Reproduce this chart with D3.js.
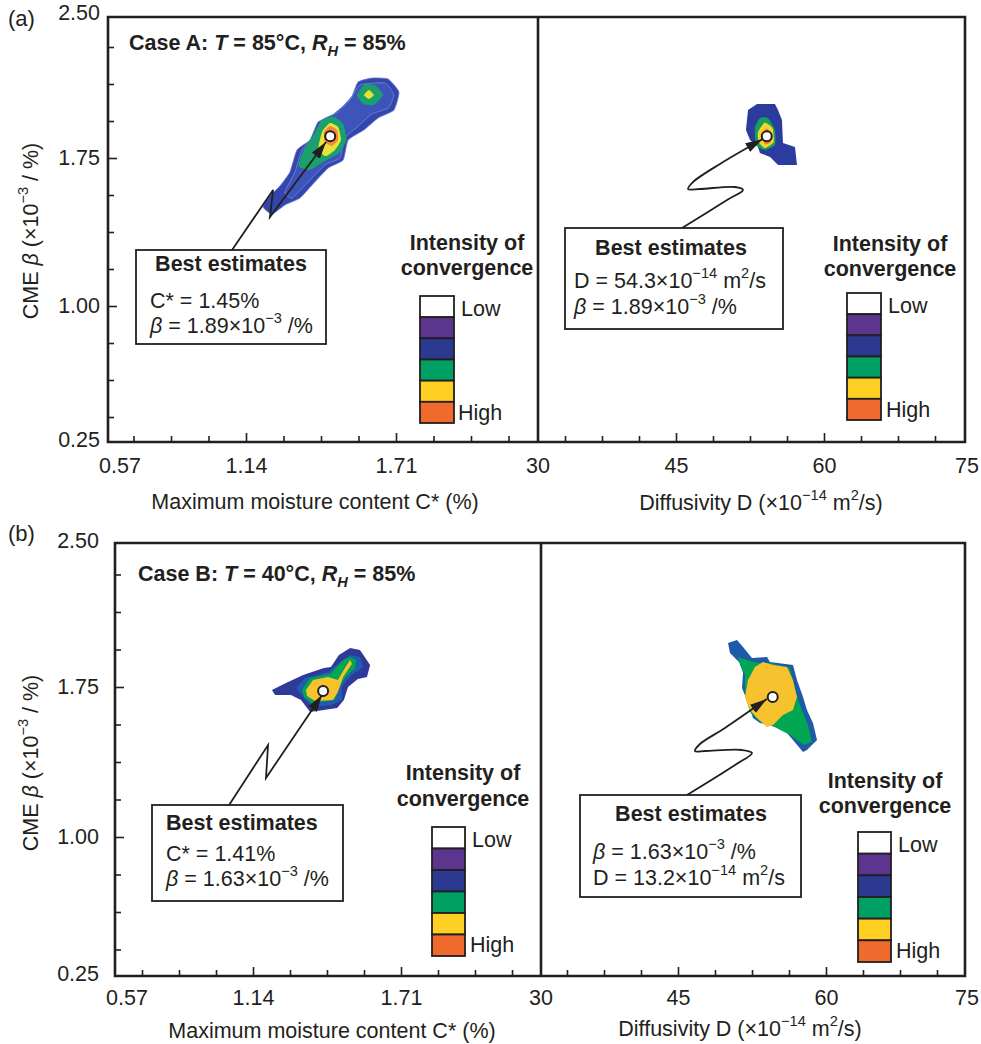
<!DOCTYPE html>
<html><head><meta charset="utf-8">
<script src="https://cdn.jsdelivr.net/npm/d3@7"></script>
<style>
body{margin:0;background:#fff}
svg{display:block}
text{font-family:"Liberation Sans",Arial,Helvetica,sans-serif;fill:#231f20}
</style>
</head><body><svg id="c" width="981" height="1044"></svg>
<script>
// ---------------- DATA ----------------
const betaTicks = [2.50, 1.75, 1.00, 0.25];
const betaMinorStep = 0.1875;
const cTicks = [0.57, 1.14, 1.71];
const cMinorStep = 0.1425;
const dTicks = [30, 45, 60, 75];
const dMinorStep = 3.75;
const legendLabels = ["Low", "", "", "", "", "High"];
const legendColors = ["#ffffff", "#5c358f", "#2b3990", "#00a064", "#fdd023", "#ef6a2c"];

// Case A, C*–beta plane (C* %, beta x1e-3 /%)
const aLeftOuter = [[1.205,1.502],[1.231,1.557],[1.269,1.608],[1.307,1.679],[1.334,1.791],[1.383,1.841],[1.414,1.932],[1.459,1.958],[1.505,2.008],[1.543,2.064],[1.566,2.135],[1.619,2.155],[1.680,2.150],[1.721,2.084],[1.702,1.993],[1.642,1.953],[1.588,1.892],[1.528,1.841],[1.509,1.740],[1.452,1.699],[1.391,1.613],[1.345,1.547],[1.288,1.512],[1.239,1.466]];
const aLeftMid = [[1.288,1.578],[1.326,1.679],[1.353,1.791],[1.402,1.867],[1.429,1.943],[1.490,1.983],[1.535,2.044],[1.573,2.120],[1.668,2.130],[1.702,2.069],[1.680,2.003],[1.619,1.973],[1.558,1.902],[1.516,1.851],[1.497,1.750],[1.440,1.715],[1.376,1.628],[1.315,1.547]];
const aLeftGreen = [[1.340,1.710],[1.360,1.791],[1.398,1.870],[1.425,1.937],[1.471,1.960],[1.510,1.920],[1.522,1.841],[1.494,1.775],[1.440,1.735],[1.383,1.690]];
const aLeftYellow = [[1.414,1.791],[1.429,1.882],[1.459,1.927],[1.490,1.907],[1.501,1.841],[1.478,1.791],[1.444,1.760]];
const aLeftOrange = [[1.436,1.882],[1.459,1.912],[1.486,1.892],[1.490,1.841],[1.467,1.811],[1.440,1.831]];
const aLeftGreen2 = [[1.562,2.069],[1.592,2.125],[1.634,2.115],[1.661,2.069],[1.626,2.019],[1.585,2.024]];
const aLeftYellow2 = [[1.588,2.069],[1.607,2.095],[1.626,2.069],[1.607,2.049]];
const aLeftBest = [1.46, 1.86];
const aLeftLeader = [[1.087,1.284],[1.243,1.588],[1.231,1.451],[1.444,1.831]];

// Case A, D–beta plane (D x1e-14 m2/s)
const aRightBlue = [[53.21,2.024],[55.03,2.024],[55.34,1.993],[55.74,1.943],[55.84,1.826],[57.06,1.806],[57.26,1.715],[55.34,1.715],[54.53,1.755],[53.51,1.775],[53.31,1.806],[52.50,1.841],[52.09,1.892],[52.30,1.993]];
const aRightGreen = [[53.0,1.902],[53.51,1.953],[54.32,1.953],[55.03,1.892],[55.03,1.816],[54.02,1.791],[53.11,1.816]];
const aRightYellow = [[53.3,1.88],[54.0,1.93],[54.8,1.90],[54.9,1.83],[54.0,1.80],[53.4,1.83]];
const aRightOrange = [[53.7,1.87],[54.2,1.90],[54.7,1.87],[54.6,1.83],[54.0,1.82]];
const aRightBest = [54.2, 1.86];
const aRightLeader = [[45.61,1.395],[50.17,1.537],[51.79,1.588],[50.98,1.603],[47.43,1.593],[46.22,1.593],[46.72,1.628],[49.46,1.720],[53.75,1.845]];

// Case B, C*–beta plane
const bLeftOuter = [[1.213,1.735],[1.267,1.77],[1.333,1.81],[1.413,1.845],[1.440,1.85],[1.471,1.91],[1.514,1.945],[1.552,1.935],[1.591,1.86],[1.579,1.80],[1.544,1.79],[1.506,1.75],[1.490,1.685],[1.464,1.645],[1.360,1.625],[1.325,1.685],[1.286,1.71],[1.225,1.71]];
const bLeftLight = [[1.306,1.745],[1.340,1.795],[1.429,1.825],[1.475,1.875],[1.514,1.91],[1.552,1.90],[1.564,1.85],[1.521,1.81],[1.483,1.755],[1.483,1.685],[1.444,1.66],[1.367,1.65],[1.333,1.70]];
const bLeftGreen = [[1.329,1.735],[1.360,1.795],[1.437,1.815],[1.487,1.885],[1.514,1.90],[1.537,1.885],[1.533,1.845],[1.494,1.795],[1.467,1.735],[1.456,1.685],[1.367,1.67],[1.336,1.70]];
const bLeftYellow = [[1.344,1.735],[1.371,1.785],[1.429,1.80],[1.467,1.785],[1.494,1.845],[1.514,1.885],[1.521,1.865],[1.487,1.80],[1.467,1.725],[1.448,1.685],[1.379,1.68],[1.348,1.705]];
const bLeftBest = [1.41, 1.73];
const bLeftLeader = [[1.048,1.16],[1.198,1.46],[1.190,1.295],[1.406,1.71]];

// Case B, D–beta plane
const bRightBlue = [[50.07,1.97],[50.98,1.985],[51.59,1.95],[52.50,1.895],[54.02,1.90],[54.32,1.875],[56.65,1.86],[57.06,1.785],[57.67,1.70],[58.07,1.635],[58.68,1.57],[59.09,1.485],[58.07,1.435],[57.67,1.425],[56.65,1.485],[56.05,1.52],[54.83,1.55],[54.32,1.56],[53.31,1.57],[52.60,1.595],[52.09,1.67],[51.49,1.745],[51.59,1.82],[51.28,1.87],[50.27,1.92]];
const bRightGreen = [[51.08,1.90],[51.99,1.885],[53.11,1.87],[54.32,1.87],[56.35,1.845],[56.86,1.735],[57.36,1.66],[58.17,1.56],[58.58,1.475],[57.77,1.46],[56.35,1.51],[54.83,1.55],[53.31,1.575],[52.30,1.625],[51.79,1.71],[51.79,1.81],[51.28,1.86]];
const bRightYellow = [[52.80,1.85],[53.61,1.875],[54.63,1.86],[56.05,1.85],[56.65,1.785],[57.06,1.70],[56.65,1.635],[55.64,1.61],[54.63,1.56],[54.02,1.55],[53.01,1.595],[52.30,1.635],[51.79,1.70],[52.09,1.785]];
const bRightBest = [54.6, 1.70];
const bRightLeader = [[45.91,1.21],[50.78,1.36],[52.50,1.42],[51.49,1.435],[47.74,1.43],[46.72,1.43],[47.23,1.465],[49.76,1.545],[54.0,1.69]];

// ---------------- DRAWING ----------------
const INK = "#231f20";
const FS = 21.5;
const svg = d3.select("#c");
const defs = svg.append("defs");
defs.append("marker").attr("id", "arr").attr("markerUnits", "userSpaceOnUse")
  .attr("markerWidth", 20).attr("markerHeight", 12).attr("refX", 17).attr("refY", 5)
  .attr("orient", "auto").append("path").attr("d", "M0,0L17,5L0,10Z").attr("fill", INK);

function rich(parent, x, y, segs, o = {}) {
  const size = o.size || FS;
  const t = parent.append("text").attr("x", x).attr("y", y + size * 0.35)
    .attr("font-size", size).attr("text-anchor", o.anchor || "start");
  if (o.bold) t.attr("font-weight", "bold");
  if (o.rotate) t.attr("transform", `rotate(-90 ${x} ${y})`);
  let shift = 0;
  segs.forEach(s => {
    if (typeof s === "string") s = { t: s };
    const target = s.sup ? -0.42 * size : s.sub ? 0.3 * size : 0;
    const ts = t.append("tspan").text(s.t).attr("dy", target - shift);
    shift = target;
    if (s.sup || s.sub) ts.attr("font-size", size * 0.68);
    if (s.i) ts.attr("font-style", "italic");
  });
  return t;
}

const betaLine = v => [{ t: "β", i: true }, " = " + v + "×10", { t: "−3", sup: true }, " /%"];
const dLine = v => ["D = " + v + "×10", { t: "−14", sup: true }, " m", { t: "2", sup: true }, "/s"];

function drawPanel(P) {
  const g = svg.append("g");
  const y = d3.scaleLinear().domain([0.25, 2.5]).range(P.yR);
  const xc = d3.scaleLinear().domain([0.57, 2.28]).range(P.cR);
  const xd = d3.scaleLinear().domain([30, 75]).range(P.dR);

  const cl = "clipL" + P.id, cr = "clipR" + P.id;
  defs.append("clipPath").attr("id", cl).append("rect").attr("x", P.x0).attr("y", P.top).attr("width", P.xm - P.x0).attr("height", P.bottom - P.top);
  defs.append("clipPath").attr("id", cr).append("rect").attr("x", P.xm).attr("y", P.top).attr("width", P.x1 - P.xm).attr("height", P.bottom - P.top);

  const gl = g.append("g").attr("clip-path", `url(#${cl})`);
  const gr = g.append("g").attr("clip-path", `url(#${cr})`);
  const lineL = d3.line().x(d => xc(d[0])).y(d => y(d[1]));
  const lineR = d3.line().x(d => xd(d[0])).y(d => y(d[1]));

  P.blobsL.forEach(b => gl.append("path").attr("d", lineL.curve(b.curve || d3.curveLinearClosed)(b.pts))
    .attr("fill", b.fill).attr("stroke", b.stroke || "none").attr("stroke-width", b.sw || 0));
  P.blobsR.forEach(b => gr.append("path").attr("d", lineR.curve(b.curve || d3.curveLinearClosed)(b.pts))
    .attr("fill", b.fill).attr("stroke", b.stroke || "none").attr("stroke-width", b.sw || 0));

  gl.append("path").attr("d", lineL.curve(d3.curveLinear)(P.leaderL)).attr("fill", "none")
    .attr("stroke", INK).attr("stroke-width", 1.8).attr("marker-end", "url(#arr)");
  gr.append("path").attr("d", lineR.curve(d3.curveCatmullRom.alpha(0.5))(P.leaderR)).attr("fill", "none")
    .attr("stroke", INK).attr("stroke-width", 1.8).attr("marker-end", "url(#arr)");
  gl.append("circle").attr("cx", xc(P.bestL[0])).attr("cy", y(P.bestL[1])).attr("r", 5)
    .attr("fill", "#fff").attr("stroke", INK).attr("stroke-width", 2);
  gr.append("circle").attr("cx", xd(P.bestR[0])).attr("cy", y(P.bestR[1])).attr("r", 5)
    .attr("fill", "#fff").attr("stroke", INK).attr("stroke-width", 2);

  const clean = s => s.call(a => a.select(".domain").remove()).selectAll("line").attr("stroke", INK).attr("stroke-width", 1.6);
  const inside = (v, lo, hi) => v > lo + 3 && v < hi - 3;
  const yMinor = d3.range(0.25, 2.5001, betaMinorStep).filter(v => inside(y(v), P.top, P.bottom) && !betaTicks.some(t => Math.abs(t - v) < 1e-6));
  const yMajor = betaTicks.filter(v => inside(y(v), P.top, P.bottom));
  g.append("g").attr("transform", `translate(${P.x0},0)`).call(d3.axisRight(y).tickValues(yMinor).tickSize(6).tickFormat("")).call(clean);
  g.append("g").attr("transform", `translate(${P.x0},0)`).call(d3.axisRight(y).tickValues(yMajor).tickSize(9).tickFormat("")).call(clean);

  const cMinor = d3.range(0.57, 2.2801, cMinorStep).filter(v => inside(xc(v), P.x0, P.xm) && !cTicks.some(t => Math.abs(t - v) < 1e-6));
  const cMajor = cTicks.filter(v => inside(xc(v), P.x0, P.xm));
  g.append("g").attr("transform", `translate(0,${P.bottom})`).call(d3.axisTop(xc).tickValues(cMinor).tickSize(6).tickFormat("")).call(clean);
  g.append("g").attr("transform", `translate(0,${P.bottom})`).call(d3.axisTop(xc).tickValues(cMajor).tickSize(9).tickFormat("")).call(clean);
  const dMinor = d3.range(30, 75.001, dMinorStep).filter(v => inside(xd(v), P.xm, P.x1) && !dTicks.some(t => Math.abs(t - v) < 1e-6));
  const dMajor = dTicks.filter(v => inside(xd(v), P.xm, P.x1));
  g.append("g").attr("transform", `translate(0,${P.bottom})`).call(d3.axisTop(xd).tickValues(dMinor).tickSize(6).tickFormat("")).call(clean);
  g.append("g").attr("transform", `translate(0,${P.bottom})`).call(d3.axisTop(xd).tickValues(dMajor).tickSize(9).tickFormat("")).call(clean);

  const styleLabels = s => { s.select(".domain").remove(); s.attr("font-family", null).attr("font-size", null);
    s.selectAll("text").attr("font-size", FS).style("fill", INK); };
  const yl = g.append("g").attr("transform", `translate(${P.yLabX},0)`)
    .call(d3.axisLeft(y).tickValues(betaTicks).tickSize(0).tickPadding(0).tickFormat(d3.format(".2f"))).call(styleLabels);
  yl.selectAll(".tick").filter(d => d === 2.5).attr("transform", `translate(0,${P.top + P.topLabDy})`);
  yl.selectAll(".tick").filter(d => d === 0.25).attr("transform", `translate(0,${P.bottom - 2})`);

  const xl = g.append("g").attr("transform", `translate(0,${P.bottom})`)
    .call(d3.axisBottom(xc).tickValues(cTicks).tickSize(0).tickPadding(P.xPad).tickFormat(d3.format(".2f"))).call(styleLabels);
  xl.selectAll(".tick").filter(d => d === 0.57).attr("transform", `translate(${P.x0 + 12},0)`);
  const xr = g.append("g").attr("transform", `translate(0,${P.bottom})`)
    .call(d3.axisBottom(xd).tickValues(dTicks).tickSize(0).tickPadding(P.xPad).tickFormat(d3.format("d"))).call(styleLabels);
  xr.selectAll(".tick").filter(d => d === 30).attr("transform", `translate(${P.xm},0)`);
  xr.selectAll(".tick").filter(d => d === 75).attr("transform", `translate(${P.x1 + 2},0)`);

  const fr = g.append("g").attr("stroke", INK).attr("stroke-width", 2.6).attr("fill", "none");
  fr.append("path").attr("d", `M${P.x0},${P.top}H${P.x1}V${P.bottom}H${P.x0}Z`);
  fr.append("path").attr("d", `M${P.xm},${P.top}V${P.bottom}`);

  rich(g, P.yTitle[0], P.yTitle[1], ["CME ", { t: "β", i: true }, " (×10", { t: "−3", sup: true }, " / %)"], { anchor: "middle", rotate: true });
  rich(g, P.xTitleL[0], P.xTitleL[1], ["Maximum moisture content C* (%)"], { anchor: "middle" });
  rich(g, P.xTitleR[0], P.xTitleR[1], ["Diffusivity D (×10", { t: "−14", sup: true }, " m", { t: "2", sup: true }, "/s)"], { anchor: "middle" });

  rich(g, P.tag[0], P.tag[1], [P.tag[2]], { size: 22 });
  rich(g, P.title[0], P.title[1], P.title[2], { bold: true });

  P.boxes.forEach(B => {
    g.append("rect").attr("x", B.x).attr("y", B.y).attr("width", B.w).attr("height", B.h)
      .attr("fill", "#fff").attr("stroke", INK).attr("stroke-width", 1.8);
    rich(g, B.hx, B.hy, ["Best estimates"], { bold: true, anchor: B.ha || "middle" });
    B.lines.forEach((ln, i) => rich(g, B.lx, B.ly[i], ln));
  });

  P.legends.forEach(L => {
    rich(g, L.tx, L.t1, ["Intensity of"], { bold: true, anchor: "middle" });
    rich(g, L.tx, L.t2, ["convergence"], { bold: true, anchor: "middle" });
    const band = d3.scaleBand().domain(d3.range(legendColors.length)).range([L.top, L.bottom]);
    g.append("g").selectAll("rect").data(legendColors).join("rect")
      .attr("x", L.x).attr("y", (d, i) => band(i)).attr("width", L.w).attr("height", band.bandwidth())
      .attr("fill", d => d).attr("stroke", INK).attr("stroke-width", 1.8);
    rich(g, L.lowX, L.lowY, [legendLabels[0]]);
    rich(g, L.highX, L.highY, [legendLabels[5]]);
  });
}

const titleSegs = (t) => ["Case " + t[0] + ": ", { t: "T", i: true }, " = " + t[1] + "°C, ", { t: "R", i: true }, { t: "H", i: true, sub: true }, " = 85%"];
const smooth = d3.curveCardinalClosed.tension(0.5);

drawPanel({
  id: "a", top: 17, bottom: 442, x0: 108, xm: 538, x1: 965,
  yR: [454, 10], cR: [96, 546], dR: [528, 972],
  yLabX: 100, topLabDy: -4, xPad: 16,
  yTitle: [30, 231], xTitleL: [315, 501], xTitleR: [761, 502],
  tag: [8, 18, "(a)"], title: [129, 42, titleSegs(["A", "85"])],
  blobsL: [
    { pts: aLeftOuter, fill: "#3446ad", stroke: "#5d74cf", sw: 0.8, curve: smooth },
    { pts: aLeftMid, fill: "#3d55bb", stroke: "#7088d8", sw: 0.8, curve: smooth },
    { pts: aLeftGreen, fill: "#1aa06a", curve: smooth },
    { pts: aLeftYellow, fill: "#e8e23a", curve: smooth },
    { pts: aLeftOrange, fill: "#f08a3a", curve: smooth },
    { pts: aLeftGreen2, fill: "#1aa06a", curve: smooth },
    { pts: aLeftYellow2, fill: "#e8e23a", curve: smooth }
  ],
  blobsR: [
    { pts: aRightBlue, fill: "#2b3c9e" },
    { pts: aRightGreen, fill: "#14a05c", curve: smooth },
    { pts: aRightYellow, fill: "#f2d52a", curve: smooth },
    { pts: aRightOrange, fill: "#f07a30", curve: smooth }
  ],
  leaderL: aLeftLeader, leaderR: aRightLeader, bestL: aLeftBest, bestR: aRightBest,
  boxes: [
    { x: 136, y: 250, w: 190, h: 94, hx: 231, hy: 263, lx: 150, ly: [300, 325], lines: [["C* = 1.45%"], betaLine("1.89")] },
    { x: 565, y: 228, w: 218, h: 101, hx: 671, hy: 247, lx: 574, ly: [280, 306], lines: [dLine("54.3"), betaLine("1.89")] }
  ],
  legends: [
    { tx: 467, t1: 242, t2: 267, x: 420, w: 34, top: 296, bottom: 423, lowX: 461, lowY: 308, highX: 458, highY: 412 },
    { tx: 890, t1: 243, t2: 268, x: 847, w: 34, top: 293, bottom: 420, lowX: 888, lowY: 305, highX: 886, highY: 409 }
  ]
});

drawPanel({
  id: "b", top: 543, bottom: 976, x0: 115, xm: 541, x1: 965,
  yR: [987, 537], cR: [105, 549], dR: [530, 974],
  yLabX: 99, topLabDy: -2, xPad: 14,
  yTitle: [30, 763], xTitleL: [332, 1030], xTitleR: [740, 1028],
  tag: [8, 533, "(b)"], title: [138, 573, titleSegs(["B", "40"])],
  blobsL: [
    { pts: bLeftOuter, fill: "#2e3a98" },
    { pts: bLeftLight, fill: "#1f5eae" },
    { pts: bLeftGreen, fill: "#00a651" },
    { pts: bLeftYellow, fill: "#f7c22c" }
  ],
  blobsR: [
    { pts: bRightBlue, fill: "#1d5ba8" },
    { pts: bRightGreen, fill: "#00a651" },
    { pts: bRightYellow, fill: "#f6c22d" }
  ],
  leaderL: bLeftLeader, leaderR: bRightLeader, bestL: bLeftBest, bestR: bRightBest,
  boxes: [
    { x: 152, y: 805, w: 191, h: 96, hx: 166, hy: 822, ha: "start", lx: 166, ly: [853, 878], lines: [["C* = 1.41%"], betaLine("1.63")] },
    { x: 580, y: 795, w: 221, h: 102, hx: 691, hy: 813, lx: 593, ly: [851, 877], lines: [betaLine("1.63"), dLine("13.2")] }
  ],
  legends: [
    { tx: 463, t1: 772, t2: 798, x: 432, w: 33, top: 827, bottom: 956, lowX: 472, lowY: 839, highX: 470, highY: 944 },
    { tx: 885, t1: 780, t2: 805, x: 858, w: 33, top: 832, bottom: 962, lowX: 898, lowY: 844, highX: 896, highY: 950 }
  ]
});
</script>
</body></html>
